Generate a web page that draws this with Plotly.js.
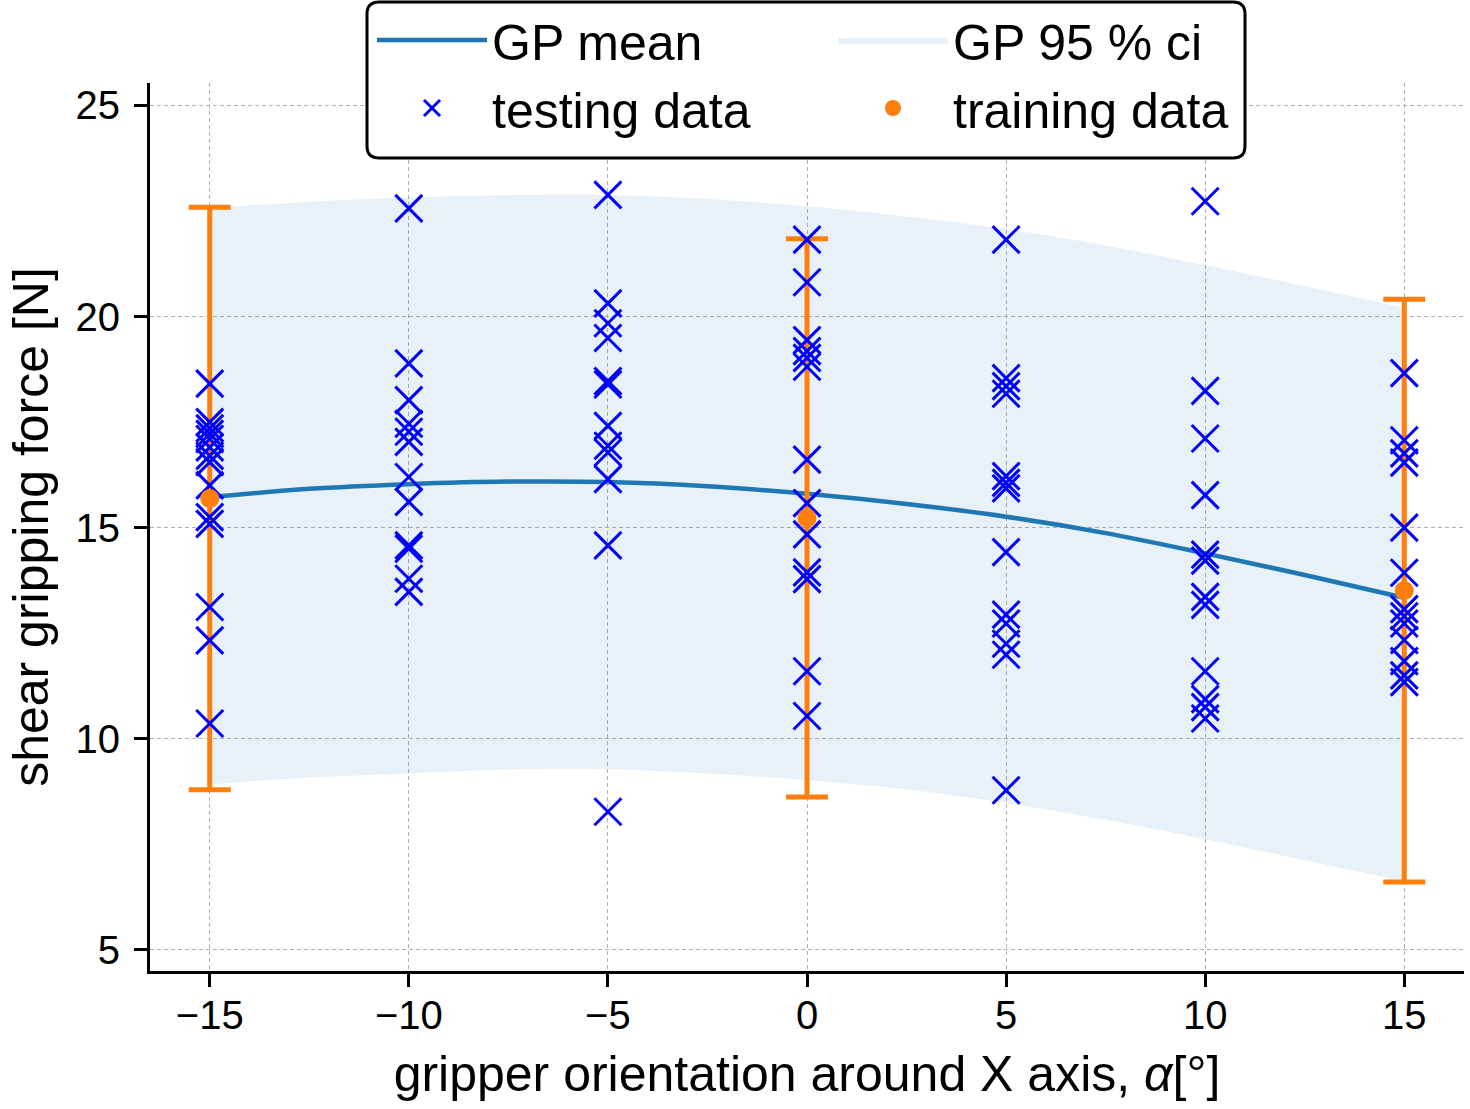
<!DOCTYPE html>
<html>
<head>
<meta charset="utf-8">
<script src="https://cdn.plot.ly/plotly-3.0.1.min.js"></script>
<style>html,body{margin:0;padding:0;background:#fff;}#chart{width:1470px;height:1109px;}</style>
</head>
<body>
<div id="chart"></div>
<script>
// GP mean and 95 % confidence band
const gpX     = [-15, -12.5, -10, -7.5, -5, -2.5, 0, 2.5, 5, 7.5, 10, 12.5, 15];
const gpMean  = [15.72, 15.92, 16.03, 16.09, 16.08, 15.98, 15.80, 15.56, 15.26, 14.87, 14.39, 13.88, 13.34];
const gpUpper = [22.56, 22.72, 22.82, 22.88, 22.88, 22.78, 22.61, 22.37, 22.07, 21.68, 21.22, 20.72, 20.20];
const gpLower = [8.92, 9.08, 9.18, 9.27, 9.28, 9.18, 9.02, 8.80, 8.48, 8.08, 7.62, 7.12, 6.62];

// testing data per orientation
const testM15 = [18.41, 17.50, 17.35, 17.22, 17.10, 16.90, 16.70, 16.55, 16.00, 15.25, 15.09, 13.12, 12.33, 10.36];
const testM10 = [22.56, 18.89, 18.02, 17.46, 17.27, 17.03, 16.20, 15.61, 14.58, 14.50, 13.79, 13.48];
const testM5  = [22.88, 20.31, 19.84, 19.49, 18.47, 18.39, 17.41, 16.94, 16.78, 16.15, 14.58, 8.27];
const test0   = [21.82, 20.81, 19.44, 19.18, 19.02, 18.81, 16.61, 15.58, 14.84, 13.94, 13.78, 11.60, 10.54];
const test5   = [21.82, 18.54, 18.35, 18.17, 16.22, 16.06, 15.93, 14.42, 12.94, 12.73, 12.25, 11.99, 8.78];
const test10  = [22.73, 18.24, 17.11, 15.77, 14.36, 14.22, 13.36, 13.17, 11.60, 10.94, 10.75, 10.48];
const test15  = [18.66, 17.07, 16.76, 16.54, 15.00, 13.93, 13.07, 12.90, 12.73, 12.34, 11.84, 11.50, 11.34];
const testAngles = [-15, -10, -5, 0, 5, 10, 15];
const testGroups = [testM15, testM10, testM5, test0, test5, test10, test15];

// training data
const trainX   = [-15, 0, 15];
const trainY   = [15.69, 15.23, 13.51];
const trainErr = [6.90, 6.61, 6.90];

// ticks
const xTickVals = [-15, -10, -5, 0, 5, 10, 15];
const xTickText = ['\u221215', '\u221210', '\u22125', '0', '5', '10', '15'];
const yTickVals = [5, 10, 15, 20, 25];
const yTickText = ['5', '10', '15', '20', '25'];

const testX = [], testY = [];
testGroups.forEach((g, i) => g.forEach(v => { testX.push(testAngles[i]); testY.push(v); }));

const FONT = '"Liberation Sans", Arial, Helvetica, sans-serif';
const orange = '#ff7f0e';
const band = 'rgba(31,119,180,0.1)';

const traces = [
  {
    x: gpX, y: gpLower, type: 'scatter', mode: 'lines',
    line: {width: 0, shape: 'spline', color: band},
    showlegend: false, hoverinfo: 'skip'
  },
  {
    x: gpX, y: gpUpper, type: 'scatter', mode: 'lines', fill: 'tonexty',
    fillcolor: band,
    line: {width: 0, shape: 'spline', color: band},
    name: 'GP 95 % ci', legendrank: 2, hoverinfo: 'skip'
  },
  {
    x: gpX, y: gpMean, type: 'scatter', mode: 'lines',
    line: {color: '#1f77b4', width: 4.5, shape: 'spline'},
    name: 'GP mean', legendrank: 1
  },
  {
    x: trainX, y: trainY, type: 'scatter', mode: 'markers',
    marker: {color: orange, size: 1, opacity: 0},
    error_y: {type: 'data', array: trainErr, visible: true, color: orange, thickness: 5, width: 21},
    showlegend: false, hoverinfo: 'skip'
  },
  {
    x: testX, y: testY, type: 'scatter', mode: 'markers',
    marker: {symbol: 'x-thin-open', size: 27, color: '#0000ff', line: {color: '#0000ff', width: 3}},
    name: 'testing data', legendrank: 3
  },
  {
    x: trainX, y: trainY, type: 'scatter', mode: 'markers',
    marker: {color: orange, size: 19},
    name: 'training data', legendrank: 4
  }
];

// rounded legend frame (paper coordinates)
const x0 = (367 - 150) / 1314, x1 = (1245 - 150) / 1314;
const y1 = (971 - 2) / 888, y0 = (971 - 158) / 888;
const rx = 12 / 1314, ry = 12 / 888;
const framePath = `M${x0+rx},${y1} L${x1-rx},${y1} Q${x1},${y1} ${x1},${y1-ry} L${x1},${y0+ry} Q${x1},${y0} ${x1-rx},${y0} L${x0+rx},${y0} Q${x0},${y0} ${x0},${y0+ry} L${x0},${y1-ry} Q${x0},${y1} ${x0+rx},${y1} Z`;

const axisCommon = {
  showline: true, linecolor: '#000', linewidth: 3, mirror: false,
  ticks: 'outside', ticklen: 13, tickwidth: 3, tickcolor: '#000',
  tickfont: {family: FONT, size: 40, color: '#000'},
  showgrid: true, gridcolor: '#b0b0b0', gridwidth: 1, griddash: '4px,3px',
  zeroline: false, automargin: false
};

const layout = {
  width: 1470, height: 1109,
  margin: {l: 150, r: 6, t: 83, b: 138, autoexpand: false},
  paper_bgcolor: '#fff', plot_bgcolor: '#fff',
  font: {family: FONT, color: '#000'},
  showlegend: true,
  xaxis: Object.assign({}, axisCommon, {
    range: [-16.5, 16.5], tickmode: 'array', tickvals: xTickVals, ticktext: xTickText,
    ticklabelstandoff: -6,
    title: {text: 'gripper orientation around X axis, <i>α</i>[°]', font: {family: FONT, size: 50, color: '#000'}, standoff: 20}
  }),
  yaxis: Object.assign({}, axisCommon, {
    range: [4.5, 25.53], tickmode: 'array', tickvals: yTickVals, ticktext: yTickText,
    ticklabelstandoff: 6,
    title: {text: 'shear gripping force [N]', font: {family: FONT, size: 50, color: '#000'}, standoff: 12}
  }),
  legend: {
    orientation: 'h', x: (372 - 150) / 1314, xanchor: 'left',
    yref: 'container', y: 1 - 1 / 1109, yanchor: 'top',
    bgcolor: 'rgba(0,0,0,0)', borderwidth: 0,
    font: {family: FONT, size: 50, color: '#000'},
    entrywidth: 336, itemwidth: 110, traceorder: 'normal', itemsizing: 'trace'
  },
  shapes: [{
    type: 'path', xref: 'paper', yref: 'paper', path: framePath,
    fillcolor: '#fff', line: {color: '#000', width: 3}, layer: 'above'
  }]
};

Plotly.newPlot('chart', traces, layout, {displayModeBar: false, staticPlot: true});
</script>
</body>
</html>
